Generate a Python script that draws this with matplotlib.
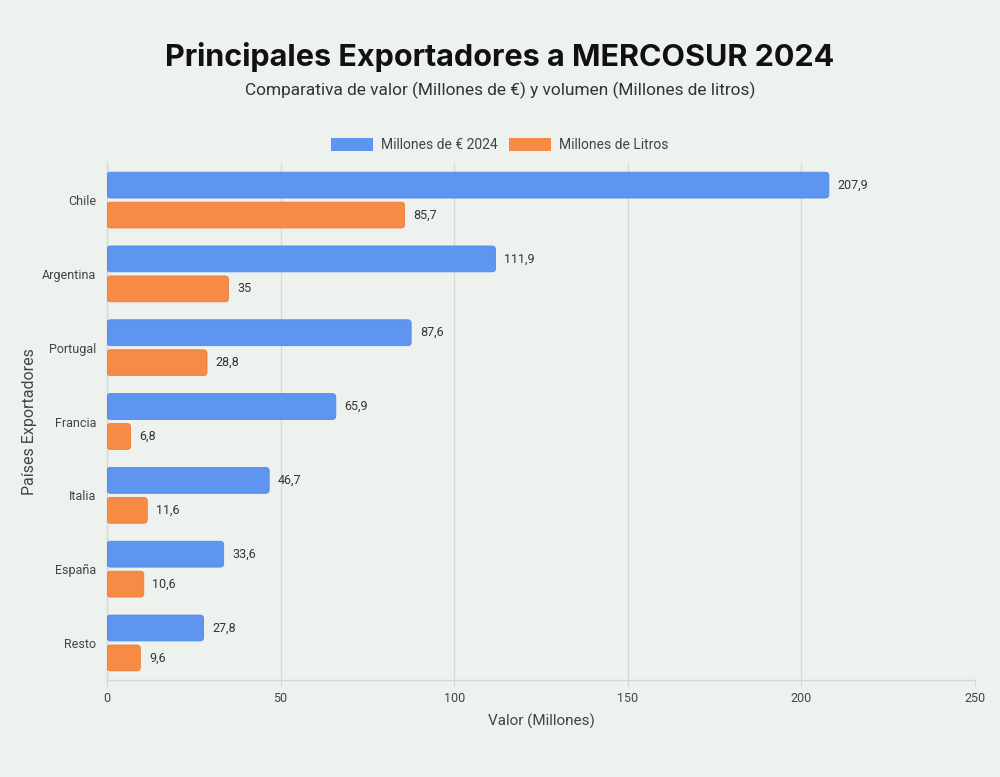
import numpy as np
import matplotlib.pyplot as plt
from matplotlib.patches import FancyBboxPatch

paises = ["Chile", "Argentina", "Portugal", "Francia", "Italia", "España", "Resto"]
millones_eur = [207.9, 111.9, 87.6, 65.9, 46.7, 33.6, 27.8]
millones_litros = [85.7, 35, 28.8, 6.8, 11.6, 10.6, 9.6]

bg = '#edf2ee'
azul = '#5d95f0'
naranja = '#f78b45'

plt.rcParams['font.family'] = ['Roboto', 'DejaVu Sans']

fig = plt.figure(figsize=(10, 7.77), dpi=100, facecolor=bg)
ax = fig.add_axes([0.107, 0.125, 0.868, 0.665], facecolor=bg)

y = np.arange(len(paises))
h = 0.35
b1 = ax.barh(y - 0.203, millones_eur, height=h, color=azul, label='Millones de € 2024', zorder=3)
b2 = ax.barh(y + 0.203, millones_litros, height=h, color=naranja, label='Millones de Litros', zorder=3)

ax.set_xlim(0, 250)
ax.set_ylim(len(paises) - 0.5, -0.5)

# rounded corners: swap each bar for a rounded box at the same spot
aspect = (7 / 517.0) / (250 / 868.0)
for bars, ec in ((b1, '#4f88e6'), (b2, '#ec7d38')):
    for bar in bars:
        bar.set_visible(False)
        p = FancyBboxPatch((bar.get_x(), bar.get_y()), bar.get_width(), bar.get_height(),
                           boxstyle='round,pad=0,rounding_size=1.0', mutation_aspect=aspect,
                           facecolor=bar.get_facecolor(), edgecolor=ec, linewidth=0.6, zorder=3)
        ax.add_patch(p)

def fmt(v):
    return ('%g' % v).replace('.', ',')

for bars, vals in ((b1, millones_eur), (b2, millones_litros)):
    for bar, v in zip(bars, vals):
        ax.text(bar.get_width() + 2.5, bar.get_y() + bar.get_height() / 2, fmt(v),
                va='center', ha='left', fontsize=9, color='#333333')

ax.set_xticks(np.arange(0, 251, 50))
ax.set_yticks(y)
ax.set_yticklabels(paises)
ax.tick_params(axis='x', length=5, color='#d5d8d5', labelsize=9, labelcolor='#444444', pad=4)
ax.tick_params(axis='y', length=0, labelsize=9, labelcolor='#444444', pad=8)
ax.grid(axis='x', color='#d5d8d5', linewidth=0.9, zorder=0)

for s in ['top', 'right']:
    ax.spines[s].set_visible(False)
for s in ['left', 'bottom']:
    ax.spines[s].set_color('#d5d8d5')
    ax.spines[s].set_linewidth(1.0)

ax.set_xlabel('Valor (Millones)', fontsize=11, color='#444444', labelpad=6)
ax.set_ylabel('Países Exportadores', fontsize=11.5, color='#444444')
ax.yaxis.set_label_coords(-0.081, 0.5)

fig.text(0.5, 0.926, 'Principales Exportadores a MERCOSUR 2024', ha='center', va='center',
         fontsize=22, fontweight='bold', family=['Inter', 'DejaVu Sans'], color='#111111')
fig.text(0.5, 0.884, 'Comparativa de valor (Millones de €) y volumen (Millones de litros)',
         ha='center', va='center', fontsize=12.4, color='#333333')

leg = fig.legend(loc='center', bbox_to_anchor=(0.5, 0.813), ncol=2, frameon=False, fontsize=10,
                 handlelength=3.0, handleheight=1.0, handletextpad=0.6, columnspacing=0.8,
                 labelcolor='#444444')
for hd in leg.legend_handles:
    hd.set_visible(True)

fig.savefig('out.png', dpi=100, facecolor=bg)
